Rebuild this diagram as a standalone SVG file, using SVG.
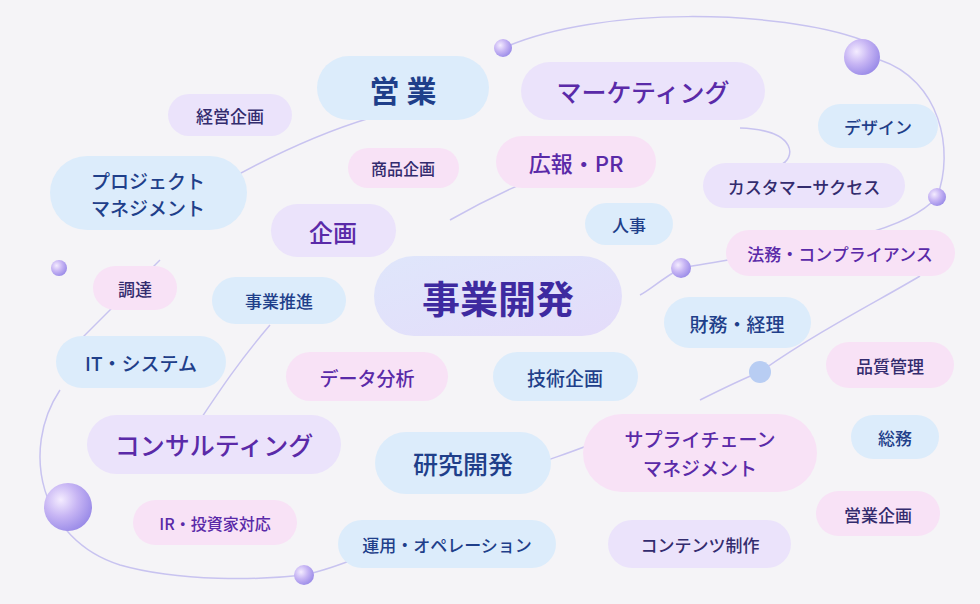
<svg xmlns="http://www.w3.org/2000/svg" width="980" height="604" viewBox="0 0 980 604">
<defs>
<style>
text{font-family:"Noto Sans CJK JP","Noto Sans",sans-serif;text-anchor:middle;dominant-baseline:central;font-weight:500}
.b{fill:#dcecfb}.l{fill:#ebe3fb}.p{fill:#f8e2f6}
.tb{fill:#1f3f8a}.tp{fill:#5a2aa8}.td{fill:#332c6e}
.s{font-size:17px}.m{font-size:19px}.L{font-size:27px}
.c{fill:none;stroke:#c8c3f0;stroke-width:1.5}
</style>
<radialGradient id="orb" cx="0.35" cy="0.35" r="0.7"><stop offset="0" stop-color="#f4ecff"/><stop offset="0.5" stop-color="#c7b5f4"/><stop offset="1" stop-color="#9a8be8"/></radialGradient>
<linearGradient id="big" x1="0" y1="0" x2="1" y2="1"><stop offset="0" stop-color="#dfe6fb"/><stop offset="1" stop-color="#e4dcfa"/></linearGradient>
</defs>
<rect width="980" height="604" fill="#f5f4f7"/>
<g id="connectors">
<path class="c" d="M503,48 C600,5 780,10 862,40"/>
<path class="c" d="M880,60 C940,80 955,150 937,197"/>
<path class="c" d="M740,128 C800,130 795,160 780,165"/>
<path class="c" d="M937,197 C900,240 780,250 681,268 C660,280 650,290 640,295"/>
<path class="c" d="M450,220 C520,180 580,160 620,150"/>
<path class="c" d="M210,190 C280,150 330,130 370,118"/>
<path class="c" d="M160,260 C140,280 110,310 80,340"/>
<path class="c" d="M60,390 C20,450 40,540 120,565 C180,582 260,580 304,575 C330,570 350,560 380,550"/>
<path class="c" d="M270,325 C240,360 220,390 200,420"/>
<path class="c" d="M520,470 C560,455 580,450 600,440"/>
<path class="c" d="M760,372 C820,330 880,300 920,276"/>
<path class="c" d="M700,400 C720,390 740,380 760,372"/>
</g>
<g id="orbs">
<circle cx="503" cy="48" r="9" fill="url(#orb)"/>
<circle cx="862" cy="57" r="18" fill="url(#orb)"/>
<circle cx="937" cy="197" r="9" fill="url(#orb)"/>
<circle cx="681" cy="268" r="10" fill="url(#orb)"/>
<circle cx="59" cy="268" r="8" fill="url(#orb)"/>
<circle cx="760" cy="372" r="11" fill="#b8cdf3"/>
<circle cx="68" cy="507" r="24" fill="url(#orb)"/>
<circle cx="304" cy="575" r="10" fill="url(#orb)"/>
</g>
<g id="n1"><rect class="b" x="317" y="56" width="172" height="64" rx="32"/><text class="tb" x="403" y="89" style="font-size:30px;font-weight:700">営 業</text></g>
<g id="n2"><rect class="l" x="521" y="62" width="244" height="58" rx="29"/><text class="tp L" x="643" y="91" style="font-size:25px">マーケティング</text></g>
<g id="n3"><rect class="l" x="168" y="94" width="124" height="42" rx="21"/><text class="td s" x="230" y="115">経営企画</text></g>
<g id="n4"><rect class="b" x="818" y="104" width="120" height="44" rx="22"/><text class="tb s" x="878" y="126">デザイン</text></g>
<g id="n5"><rect class="p" x="348" y="148" width="111" height="40" rx="20"/><text class="td" x="403" y="168" style="font-size:16px">商品企画</text></g>
<g id="n6"><rect class="p" x="496" y="136" width="160" height="52" rx="26"/><text class="tp" x="576" y="162" style="font-size:22px">広報・PR</text></g>
<g id="n7"><rect class="b" x="50" y="156" width="197" height="74" rx="37"/><text class="tb m" x="148" y="180">プロジェクト</text><text class="tb m" x="148" y="207">マネジメント</text></g>
<g id="n8"><rect class="l" x="703" y="163" width="202" height="45" rx="22.5"/><text class="td s" x="804" y="186">カスタマーサクセス</text></g>
<g id="n9"><rect class="l" x="271" y="204" width="125" height="53" rx="26.5"/><text class="tp" x="333" y="231" style="font-size:24px">企画</text></g>
<g id="n10"><rect class="b" x="585" y="203" width="88" height="42" rx="21"/><text class="tb s" x="629" y="224">人事</text></g>
<g id="n11"><rect class="p" x="726" y="230" width="229" height="46" rx="23"/><text class="tp s" x="840" y="253">法務・コンプライアンス</text></g>
<g id="n12"><rect class="p" x="93" y="266" width="84" height="44" rx="22"/><text class="td s" x="135" y="288">調達</text></g>
<g id="n13"><rect class="b" x="212" y="277" width="134" height="47" rx="23.5"/><text class="tb s" x="279" y="300">事業推進</text></g>
<g id="n14"><rect fill="url(#big)" x="374" y="256" width="248" height="80" rx="40"/><text class="tp" x="498" y="296" style="font-size:38px;font-weight:700;fill:#3e2aa0">事業開発</text></g>
<g id="n15"><rect class="b" x="664" y="297" width="147" height="51" rx="25.5"/><text class="tb" x="737" y="323" style="font-size:19px">財務・経理</text></g>
<g id="n16"><rect class="b" x="56" y="336" width="170" height="52" rx="26"/><text class="tb" x="141" y="362" style="font-size:19px">IT・システム</text></g>
<g id="n17"><rect class="p" x="286" y="352" width="162" height="49" rx="24.5"/><text class="tp" x="367" y="377" style="font-size:19px">データ分析</text></g>
<g id="n18"><rect class="b" x="493" y="352" width="145" height="49" rx="24.5"/><text class="tb" x="565" y="377" style="font-size:19px">技術企画</text></g>
<g id="n19"><rect class="p" x="826" y="342" width="128" height="46" rx="23"/><text class="td s" x="890" y="365">品質管理</text></g>
<g id="n20"><rect class="l" x="87" y="415" width="254" height="59" rx="29.5"/><text class="tp" x="214" y="444" style="font-size:25px">コンサルティング</text></g>
<g id="n21"><rect class="b" x="375" y="432" width="176" height="62" rx="31"/><text class="tb" x="463" y="463" style="font-size:25px">研究開発</text></g>
<g id="n22"><rect class="p" x="583" y="414" width="234" height="78" rx="39"/><text class="tp m" x="700" y="438">サプライチェーン</text><text class="tp m" x="700" y="467">マネジメント</text></g>
<g id="n23"><rect class="b" x="851" y="415" width="88" height="44" rx="22"/><text class="tb s" x="895" y="437">総務</text></g>
<g id="n24"><rect class="p" x="133" y="500" width="164" height="45" rx="22.5"/><text class="tp" x="215" y="523" style="font-size:16px">IR・投資家対応</text></g>
<g id="n25"><rect class="b" x="338" y="520" width="218" height="48" rx="24"/><text class="tb s" x="447" y="544">運用・オペレーション</text></g>
<g id="n26"><rect class="l" x="608" y="520" width="183" height="48" rx="24"/><text class="td s" x="700" y="544">コンテンツ制作</text></g>
<g id="n27"><rect class="p" x="816" y="491" width="124" height="45" rx="22.5"/><text class="td s" x="878" y="514">営業企画</text></g>
</svg>
